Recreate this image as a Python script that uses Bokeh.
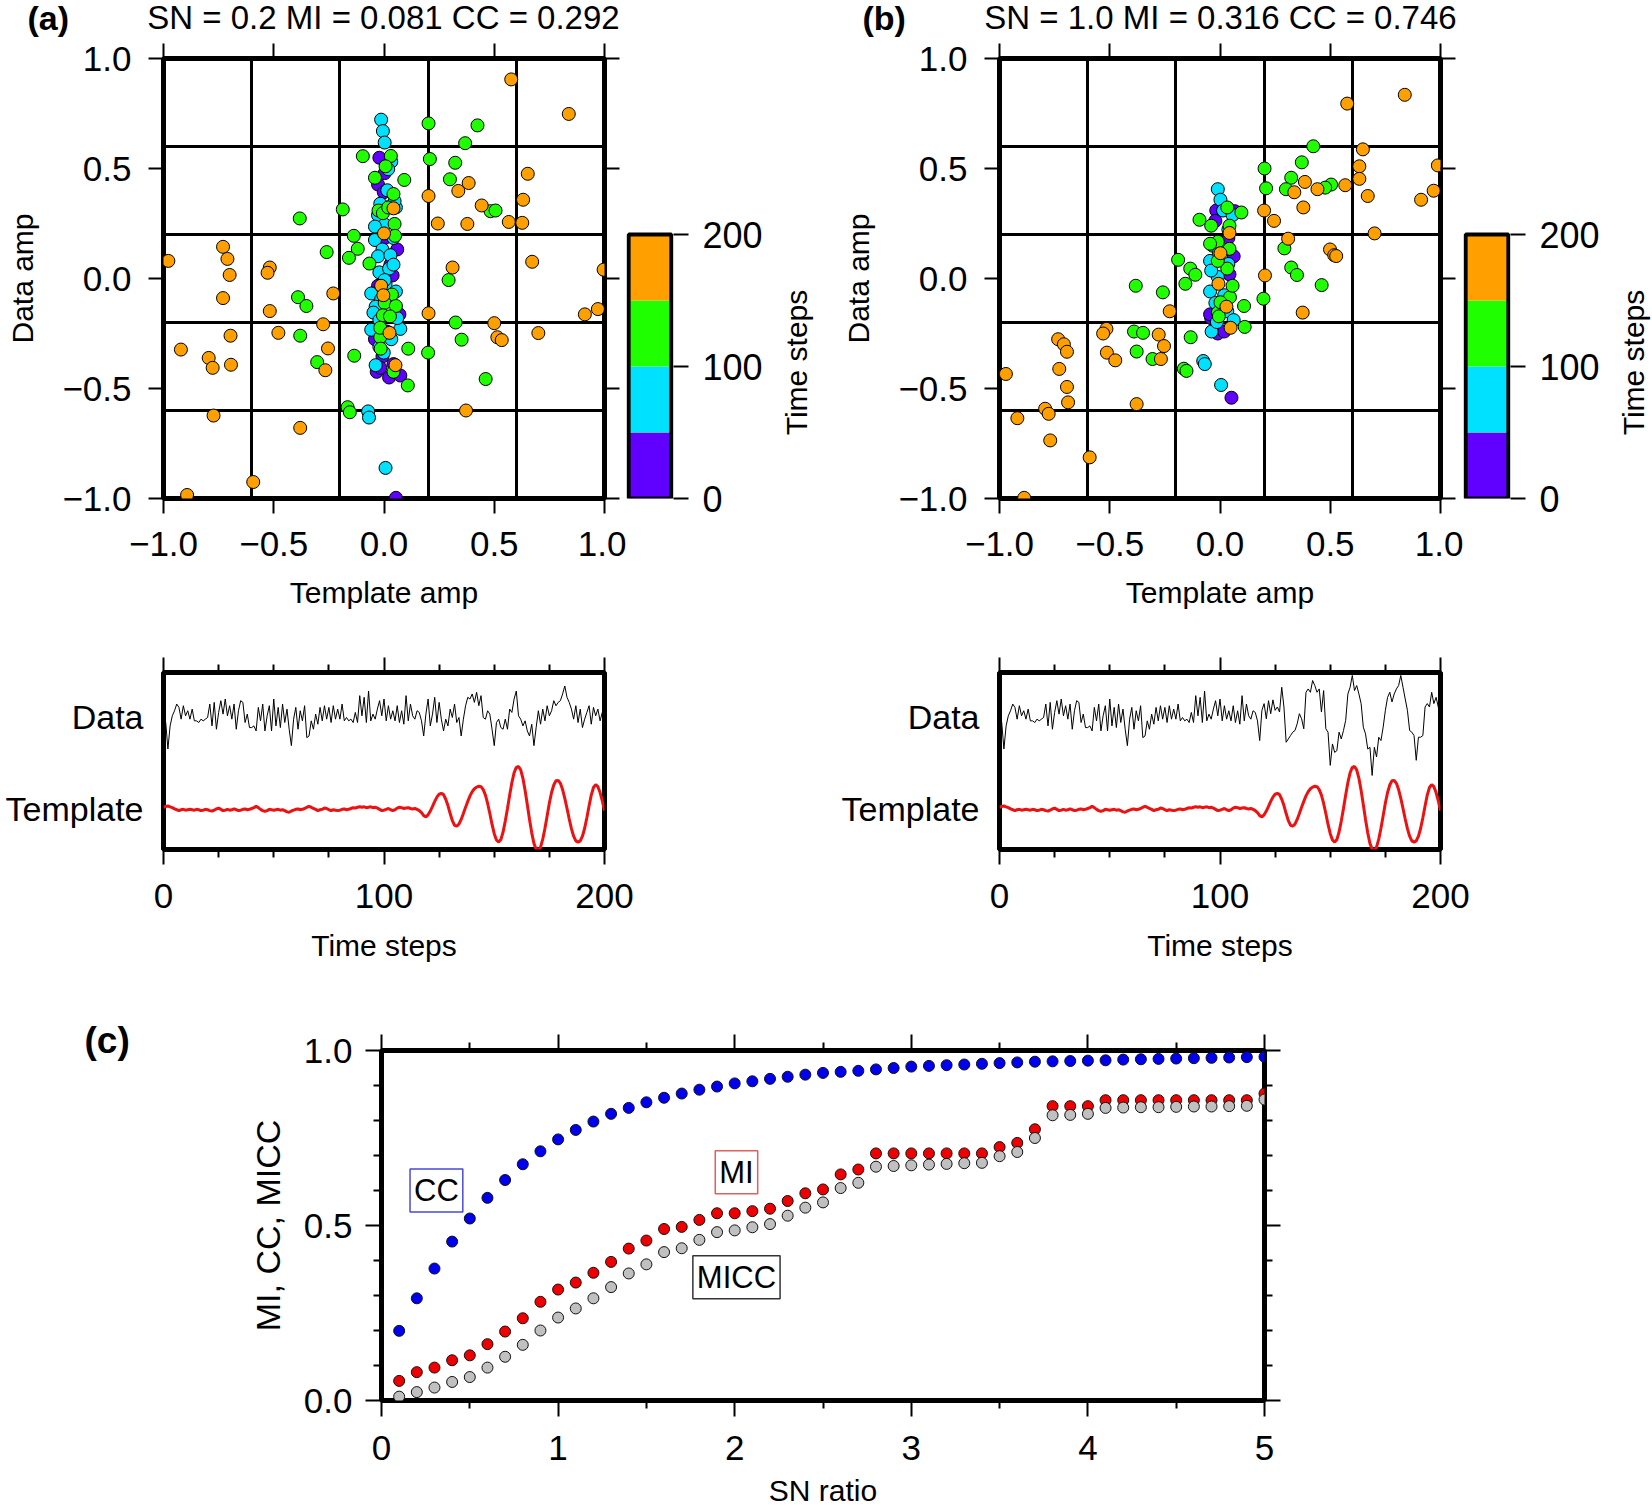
import math
from bokeh.plotting import figure
from bokeh.models import (LinearAxis, FixedTicker, Grid, Label,
                          CustomJSTickFormatter, Range1d)
from bokeh.layouts import row, column
from bokeh.embed import file_html
from bokeh.resources import INLINE

FONT = "Liberation Sans"

# ------------------------------------------------------------------ data
time_steps = list(range(0, 201))

template = [
    0.03, 0.05, 0.06, 0.04, 0.02, -0.01, -0.03, -0.05, -0.03, -0.02,
    -0.04, -0.03, -0.02, -0.03, -0.04, -0.02, -0.03, -0.05, -0.04, -0.02,
    -0.03, -0.05, -0.06, -0.04, -0.01, 0.01, -0.02, -0.05, -0.04, -0.02,
    -0.04, -0.03, -0.01, -0.03, -0.05, -0.04, -0.02, -0.01, -0.03, -0.02,
    0.00, 0.02, 0.05, 0.02, -0.02, -0.05, -0.07, -0.05, -0.02, -0.03,
    -0.04, -0.03, -0.02, -0.04, -0.03, -0.05, -0.08, -0.09, -0.06, -0.04,
    -0.02, -0.01, -0.03, -0.02, 0.00, 0.03, 0.05, 0.03, 0.00, -0.02,
    -0.05, -0.03, -0.02, 0.01, 0.00, -0.03, -0.05, -0.03, -0.04, -0.05,
    -0.04, -0.02, -0.01, -0.03, -0.02, 0.00, 0.02, 0.01, 0.03, 0.04,
    0.03, 0.04, 0.02, 0.03, 0.04, 0.02, 0.03, 0.01, -0.02, -0.05,
    -0.04, -0.02, 0.00, -0.03, -0.05, -0.03, 0.01, 0.03, 0.02, 0.00,
    0.01, 0.02, 0.00, -0.01, 0.00, -0.02, -0.05, -0.10,
    -0.17, -0.20, -0.15, -0.06, 0.05, 0.17, 0.27, 0.34, 0.36, 0.33,
    0.22, 0.07, -0.12, -0.29, -0.40, -0.42, -0.37, -0.26, -0.12, 0.03,
    0.17, 0.30, 0.40, 0.47, 0.51, 0.53, 0.52, 0.45, 0.32, 0.12,
    -0.12, -0.38, -0.60, -0.75, -0.80, -0.74, -0.56, -0.30, 0.00, 0.32,
    0.62, 0.85, 0.98, 1.00, 0.92, 0.72, 0.43, 0.09, -0.26, -0.58,
    -0.83, -0.97, -1.00, -0.92, -0.73, -0.47, -0.17, 0.13, 0.38, 0.56,
    0.66, 0.67, 0.60, 0.45, 0.24, 0.00, -0.25, -0.48, -0.66, -0.77,
    -0.80, -0.77, -0.66, -0.47, -0.22, 0.06, 0.32, 0.50, 0.57, 0.52,
    0.38, 0.18, -0.05,
]

data_a = [
    0.04, -0.12, -0.75, -0.20, 0.04, 0.16, 0.32, 0.24, -0.04, 0.28,
    0.04, 0.16, -0.04, 0.20, -0.08, -0.08, -0.12, -0.04, -0.08, -0.04,
    0.00, 0.32, -0.20, 0.36, -0.28, 0.12, 0.40, 0.08, 0.44, 0.04,
    0.28, -0.04, 0.32, -0.28, 0.16, 0.40, 0.36, -0.12, 0.08, -0.24,
    -0.24, -0.20, -0.32, 0.24, -0.08, 0.32, -0.32, 0.04, 0.28, -0.32,
    0.44, -0.20, 0.24, -0.24, 0.32, -0.12, 0.20, -0.28, -0.67, -0.04,
    0.24, -0.28, 0.16, -0.08, 0.28, -0.48, -0.44, -0.08, -0.28, 0.08,
    -0.16, 0.24, -0.08, 0.28, -0.04, 0.24, -0.12, 0.28, -0.04, 0.20,
    -0.04, 0.32, -0.08, 0.00, -0.08, -0.04, -0.12, 0.12, -0.12, 0.52,
    0.04, 0.48, -0.12, 0.63, -0.08, 0.08, -0.04, 0.20, 0.40, 0.04,
    0.44, -0.08, 0.28, -0.04, 0.16, -0.08, 0.28, -0.12, 0.16, -0.16,
    0.52, -0.08, 0.32, 0.04, -0.04, 0.16, 0.12, -0.08, -0.44, 0.08,
    0.44, -0.20, 0.08, 0.48, -0.12, 0.36, -0.04, -0.32, -0.04, -0.20,
    0.20, 0.00, 0.32, -0.12, 0.00, -0.44, -0.04, 0.28, 0.48, 0.44,
    0.56, 0.36, 0.60, 0.28, 0.52, 0.00, -0.04, 0.16, 0.08, -0.28,
    -0.67, -0.12, -0.04, -0.24, -0.28, -0.04, -0.28, 0.20, 0.12, 0.44,
    0.63, 0.04, -0.04, -0.20, -0.08, -0.32, -0.44, -0.16, -0.67, -0.24,
    0.16, -0.16, 0.20, -0.08, 0.28, 0.04, 0.16, 0.40, 0.28, 0.36,
    0.40, 0.56, 0.75, 0.48, 0.36, 0.20, -0.04, 0.28, -0.12, 0.20,
    -0.24, -0.04, 0.12, 0.28, -0.16, 0.24, 0.04, 0.20, -0.08, 0.12,
    0.00,
]

data_b = [
    0.04, -0.12, -0.75, -0.20, 0.04, 0.16, 0.32, 0.24, -0.04, 0.28,
    0.04, 0.16, -0.04, 0.20, -0.08, -0.08, -0.12, -0.04, -0.08, -0.04,
    0.00, 0.32, -0.20, 0.36, -0.28, 0.12, 0.40, 0.08, 0.44, 0.04,
    0.28, -0.04, 0.32, -0.28, 0.16, 0.40, 0.36, -0.12, 0.08, -0.24,
    -0.24, -0.20, -0.32, 0.24, -0.08, 0.32, -0.32, 0.04, 0.28, -0.32,
    0.44, -0.20, 0.24, -0.24, 0.32, -0.12, 0.20, -0.28, -0.67, -0.04,
    0.24, -0.28, 0.16, -0.08, 0.28, -0.48, -0.44, -0.08, -0.28, 0.08,
    -0.16, 0.24, -0.08, 0.28, -0.04, 0.24, -0.12, 0.28, -0.04, 0.20,
    -0.04, 0.32, -0.08, 0.00, -0.08, -0.04, -0.12, 0.12, -0.12, 0.52,
    0.04, 0.48, -0.12, 0.63, -0.08, 0.08, -0.04, 0.20, 0.40, 0.04,
    0.44, -0.08, 0.28, -0.04, 0.16, -0.08, 0.28, -0.12, 0.16, -0.16,
    0.52, -0.08, 0.32, 0.04, -0.04, 0.16, 0.12, -0.08,
    -0.55, 0.17, 0.33, -0.03, 0.40, 0.09, 0.42, 0.17, 0.25, 0.13,
    0.72, 0.25, -0.59, -0.51, -0.43, -0.35, -0.31, -0.15, 0.09, -0.03,
    -0.27, 0.60, 0.68, 0.60, 0.88, 0.76, 0.60, 0.68, 0.13, 0.64,
    -0.27, -0.35, -1.14, -0.63, -0.83, -0.79, -0.35, -0.51, -0.31, -0.07,
    0.56, 0.72, 1.00, 0.64, 0.76, 0.56, 0.33, -0.23, -0.39, -0.75,
    -0.71, -1.38, -0.71, -0.94, -0.47, -0.55, -0.23, 0.17, 0.48, 0.60,
    0.37, 0.56, 0.68, 0.76, 1.00, 0.72, 0.44, 0.17, -0.31, -0.35,
    -0.43, -1.02, -0.47, -0.47, -0.43, 0.25, 0.33, 0.25, 0.60, 0.33,
    0.48, 0.25, -0.11,
]

# scatter colours per time-step band (0-50, 50-100, 100-150, 150-200)
band_colors = ["#6000ff", "#00e0ff", "#20ff00", "#ffa000"]
band_edges = [0, 50, 100, 150, 200]

# panel (a): template amp (x) vs data amp (y)
a_purple_x = [-0.021, 0.003, -0.027, -0.001, 0.060, 0.039, 0.029, -0.027, 0.070, -0.041, -0.007,
              -0.033, 0.023, 0.074, 0.054, 0.003, -0.013, 0.013, -0.017, 0.043, 0.007, 0.023]
a_purple_y = [0.549, 0.479, 0.427, 0.392, 0.132, 0.014, 0.063, -0.033, -0.163, -0.276, -0.354,
              -0.424, -0.450, -0.441, -0.997, 0.184, -0.111, -0.241, -0.406, -0.389, 0.323, -0.076]
a_cyan_x = [-0.013, -0.005, 0.003, 0.033, 0.015, -0.017, 0.054, -0.027, 0.003, -0.041, -0.007,
            -0.027, 0.029, -0.021, -0.058, -0.013, -0.038, -0.048, -0.021, 0.074, 0.033, -0.021,
            -0.001, -0.038, -0.072, -0.068, 0.007, 0.043, 0.023, 0.007, 0.043, -0.041, 0.054,
            -0.058, 0.019, 0.048, 0.003, 0.060]
a_cyan_y = [0.722, 0.670, 0.618, 0.531, 0.401, 0.340, 0.323, 0.288, 0.245, 0.175, 0.132,
            0.101, 0.106, 0.028, -0.068, -0.094, -0.128, -0.155, -0.189, -0.229, -0.276, -0.311,
            -0.337, -0.394, -0.604, -0.632, -0.861, 0.184, 0.045, -0.024, 0.063, 0.236, -0.059,
            -0.233, 0.497, 0.352, -0.007, -0.180]
a_green_x = [0.202, 0.424, 0.368, -0.096, 0.031, 0.208, 0.323, 0.007, 0.092, -0.041, 0.299,
             0.043, 0.483, 0.506, -0.187, -0.382, -0.025, -0.005, 0.048, -0.137, 0.050, -0.119,
             -0.260, -0.159, -0.066, 0.293, -0.390, -0.352, 0.036, 0.003, 0.054, -0.005, 0.027,
             0.325, -0.380, 0.352, -0.017, 0.110, -0.015, -0.135, 0.200, -0.303, 0.043, 0.108,
             0.461, -0.165, -0.155, -0.017, 0.019]
a_green_y = [0.705, 0.696, 0.615, 0.556, 0.557, 0.543, 0.526, 0.510, 0.448, 0.458, 0.451,
             0.384, 0.306, 0.309, 0.314, 0.273, 0.309, 0.297, 0.248, 0.194, 0.194, 0.135,
             0.120, 0.094, 0.068, -0.007, -0.085, -0.125, -0.073, -0.111, -0.125, -0.167, -0.172,
             -0.200, -0.260, -0.278, -0.267, -0.319, -0.319, -0.351, -0.337, -0.380, -0.424, -0.486,
             -0.457, -0.585, -0.608, -0.224, 0.323]
a_orange_x = [0.577, 0.838, 0.652, 0.384, 0.337, 0.202, 0.631, 0.443, 0.043, 0.244, 0.378,
              0.566, 0.627, 0.000, -0.730, -0.710, -0.978, 0.672, -0.700, -0.518, -0.528, 0.311,
              0.996, -0.013, -0.003, -0.730, -0.230, -0.518, 0.911, 0.970, 0.202, 0.500, -0.276,
              -0.479, 0.025, 0.700, -0.696, 0.514, 0.534, -0.921, -0.254, -0.795, -0.777, -0.694,
              -0.266, 0.052, 0.372, -0.773, -0.380, -0.593, -0.893]
a_orange_y = [0.905, 0.748, 0.476, 0.434, 0.398, 0.375, 0.358, 0.332, 0.319, 0.250, 0.248,
              0.257, 0.253, 0.205, 0.144, 0.089, 0.080, 0.076, 0.016, 0.050, 0.026, 0.050,
              0.040, -0.033, -0.076, -0.089, -0.068, -0.148, -0.163, -0.139, -0.158, -0.203, -0.208,
              -0.247, -0.247, -0.248, -0.260, -0.267, -0.280, -0.323, -0.318, -0.361, -0.406, -0.392,
              -0.417, -0.394, -0.600, -0.623, -0.679, -0.925, -0.984]

# panel (b)
b_purple_x = [-0.017, 0.067, 0.038, 0.062, 0.043, -0.040, -0.010, 0.019, 0.052, -0.045, 0.033, -0.021]
b_purple_y = [0.309, 0.306, 0.184, 0.101, 0.019, -0.180, -0.250, -0.241, -0.542, -0.163, -0.094, 0.262]
b_cyan_x = [-0.010, 0.002, 0.014, 0.038, -0.033, -0.045, 0.038, -0.010, -0.045, -0.021, 0.033,
            0.062, -0.038, -0.014, -0.076, -0.069, 0.005, 0.019, -0.005, 0.057, -0.040]
b_cyan_y = [0.406, 0.358, 0.309, 0.222, 0.149, 0.080, 0.066, 0.007, -0.059, -0.111, -0.149,
            -0.189, -0.241, -0.198, -0.375, -0.389, -0.484, -0.076, 0.115, 0.288, 0.036]
b_green_x = [0.423, 0.371, 0.202, 0.323, 0.299, 0.209, 0.504, 0.477, 0.097, 0.033, -0.093,
             -0.040, 0.043, -0.010, 0.043, 0.292, -0.190, -0.135, -0.112, 0.323, 0.349, -0.382,
             -0.157, -0.259, 0.461, 0.197, 0.109, 0.045, -0.010, 0.002, 0.112, -0.390, -0.349,
             -0.133, -0.378, -0.306, -0.164, -0.152, -0.005, -0.045, 0.033, 0.057, -0.010]
b_green_y = [0.601, 0.528, 0.500, 0.458, 0.406, 0.410, 0.427, 0.413, 0.300, 0.323, 0.267,
             0.240, 0.240, 0.167, 0.135, 0.137, 0.085, 0.045, 0.017, 0.050, 0.016, -0.033,
             -0.024, -0.063, -0.030, -0.092, -0.125, -0.085, -0.155, -0.108, -0.220, -0.241, -0.247,
             -0.267, -0.332, -0.366, -0.410, -0.420, -0.172, 0.158, 0.045, -0.033, 0.080]
b_orange_x = [0.838, 0.577, 0.648, 0.988, 0.632, 0.632, 0.385, 0.568, 0.442, 0.337, 0.670,
              0.969, 0.912, 0.378, 0.200, 0.245, 0.701, 0.309, 0.043, 0.499, 0.518, 0.527,
              0.002, 0.204, -0.007, 0.029, -0.228, 0.375, 0.048, -0.515, -0.530, -0.734, -0.708,
              -0.694, -0.278, -0.254, -0.513, -0.475, -0.268, -0.971, -0.729, -0.694, -0.689,
              -0.793, -0.777, -0.919, -0.378, -0.770, -0.591, -0.888]
b_orange_y = [0.835, 0.795, 0.587, 0.514, 0.510, 0.453, 0.439, 0.424, 0.406, 0.392, 0.375,
              0.399, 0.358, 0.323, 0.309, 0.262, 0.205, 0.181, 0.207, 0.132, 0.106, 0.102,
              0.115, 0.014, -0.024, -0.128, -0.149, -0.155, -0.224, -0.229, -0.250, -0.276, -0.299,
              -0.333, -0.255, -0.307, -0.337, -0.372, -0.366, -0.434, -0.411, -0.493, -0.563,
              -0.592, -0.615, -0.635, -0.571, -0.736, -0.813, -0.997]

# panel (c)
sn_ratio = [0.1, 0.2, 0.3, 0.4, 0.5, 0.6, 0.7, 0.8, 0.9, 1.0,
            1.1, 1.2, 1.3, 1.4, 1.5, 1.6, 1.7, 1.8, 1.9, 2.0,
            2.1, 2.2, 2.3, 2.4, 2.5, 2.6, 2.7, 2.8, 2.9, 3.0,
            3.1, 3.2, 3.3, 3.4, 3.5, 3.6, 3.7, 3.8, 3.9, 4.0,
            4.1, 4.2, 4.3, 4.4, 4.5, 4.6, 4.7, 4.8, 4.9, 5.0]
cc_vals = [0.199, 0.292, 0.377, 0.454, 0.520, 0.579, 0.630, 0.675, 0.712, 0.746,
           0.773, 0.797, 0.819, 0.836, 0.852, 0.865, 0.877, 0.888, 0.897, 0.906,
           0.912, 0.919, 0.925, 0.931, 0.936, 0.939, 0.942, 0.946, 0.950, 0.954,
           0.956, 0.958, 0.960, 0.962, 0.964, 0.966, 0.968, 0.969, 0.970, 0.971,
           0.972, 0.974, 0.975, 0.976, 0.977, 0.978, 0.979, 0.980, 0.981, 0.982]
mi_vals = [0.056, 0.081, 0.094, 0.115, 0.129, 0.161, 0.197, 0.235, 0.282, 0.317,
           0.337, 0.365, 0.396, 0.434, 0.457, 0.490, 0.496, 0.516, 0.535, 0.535,
           0.541, 0.548, 0.570, 0.592, 0.603, 0.646, 0.660, 0.706, 0.706, 0.706,
           0.706, 0.706, 0.706, 0.706, 0.724, 0.736, 0.775, 0.841, 0.841, 0.841,
           0.858, 0.858, 0.858, 0.858, 0.858, 0.858, 0.858, 0.858, 0.858, 0.877]
micc_vals = [0.011, 0.024, 0.037, 0.053, 0.067, 0.094, 0.125, 0.159, 0.200, 0.237,
             0.263, 0.292, 0.324, 0.363, 0.389, 0.424, 0.435, 0.459, 0.481, 0.486,
             0.495, 0.504, 0.528, 0.551, 0.566, 0.607, 0.622, 0.668, 0.670, 0.672,
             0.674, 0.676, 0.678, 0.679, 0.698, 0.710, 0.750, 0.815, 0.816, 0.819,
             0.836, 0.837, 0.838, 0.838, 0.839, 0.840, 0.840, 0.841, 0.842, 0.860]

DATA_OFFSET = 2.167   # vertical offset of the "Data" trace in the waveform panels

# ------------------------------------------------------------------ helpers
TICK_FS = "35px"
LABEL_FS = "30px"


def base_fig(width, height, xr, yr, left, right, top, bottom, outline=5):
    p = figure(width=width, height=height, x_range=Range1d(*xr), y_range=Range1d(*yr),
               x_axis_type=None, y_axis_type=None, toolbar_location=None,
               output_backend="svg", min_border_left=left, min_border_right=right,
               min_border_top=top, min_border_bottom=bottom)
    if outline:
        p.outline_line_color = "black"
        p.outline_line_width = outline
    else:
        p.outline_line_color = None
    p.background_fill_color = "white"
    p.border_fill_color = "white"
    return p


def add_axis(p, side, ticker, formatter=None, major_out=15, minor_out=8,
             labels=True, standoff=10, fs=TICK_FS, title=None, title_fs=LABEL_FS,
             title_standoff=10):
    ax = LinearAxis(ticker=ticker)
    if not labels:
        formatter = CustomJSTickFormatter(code="return '';")
    if formatter is not None:
        ax.formatter = formatter
    ax.axis_line_color = None
    ax.major_tick_in = 0
    ax.minor_tick_in = 0
    ax.major_tick_out = major_out
    ax.minor_tick_out = minor_out
    ax.major_tick_line_width = 2
    ax.minor_tick_line_width = 2
    ax.major_tick_line_color = "black"
    ax.minor_tick_line_color = "black"
    ax.major_label_text_font = FONT
    ax.major_label_text_color = "black"
    ax.major_label_text_font_size = fs if labels else "1px"
    ax.major_label_standoff = standoff if labels else 0
    if title:
        ax.axis_label = title
        ax.axis_label_text_font = FONT
        ax.axis_label_text_font_size = title_fs
        ax.axis_label_text_font_style = "normal"
        ax.axis_label_text_color = "black"
        ax.axis_label_standoff = title_standoff
    p.add_layout(ax, side)
    return ax


def add_label(p, x, y, text, fs=LABEL_FS, align="center", angle=0.0, bold=False, **kw):
    lab = Label(x=x, y=y, text=text, text_font=FONT, text_font_size=fs,
                text_align=align, text_baseline="alphabetic", angle=angle,
                angle_units="rad", text_color="black",
                text_font_style="bold" if bold else "normal", **kw)
    p.add_layout(lab)
    return lab


minus_fmt = "return (tick < 0 ? '\\u2212' : '') + Math.abs(tick).toFixed(1);"

TITLE_H = 38
ROW1_TOP, ROW1_BOTTOM, ROW1_H = 20, 127, 587


def scatter_panel(width, left, right, groups):
    p = base_fig(width, ROW1_H, (-1, 1), (-1, 1), left, right, ROW1_TOP, ROW1_BOTTOM)
    amp_ticks = FixedTicker(ticks=[-1, -0.5, 0, 0.5, 1], minor_ticks=[])
    fmt = CustomJSTickFormatter(code=minus_fmt)
    add_axis(p, "below", amp_ticks, fmt, standoff=18, title="Template amp", title_standoff=17)
    add_axis(p, "left", amp_ticks, fmt, standoff=17, title="Data amp", title_standoff=20)
    add_axis(p, "above", amp_ticks, labels=False)
    add_axis(p, "right", amp_ticks, labels=False)
    for dim in (0, 1):
        p.add_layout(Grid(dimension=dim, ticker=FixedTicker(ticks=[-0.6, -0.2, 0.2, 0.6]),
                          grid_line_color="black", grid_line_width=3))
    for (xs, ys), col in zip(groups, band_colors):
        p.scatter(xs, ys, size=13, fill_color=col, line_color="black", line_width=1)
    return p


def cbar_panel(width, frame_w):
    # frame spans the scatter frame height; the bar fills band_edges[0]..band_edges[-1]
    bar_frac = 264.0 / 440.0
    top_val = band_edges[-1] / bar_frac
    p = base_fig(width, ROW1_H, (-0.05, 1.05), (0, top_val), 0, width - frame_w,
                 ROW1_TOP, ROW1_BOTTOM, outline=0)
    p.quad(left=0, right=1, bottom=band_edges[:-1], top=band_edges[1:],
           fill_color=band_colors, line_color=None)
    p.quad(left=0, right=1, bottom=band_edges[0], top=band_edges[-1],
           fill_color=None, line_color="black", line_width=4)
    add_axis(p, "right", FixedTicker(ticks=[0, 100, 200], minor_ticks=[]), standoff=14,
             fs="36px")
    return p


def cbar_text(x0, width, label_x):
    p = base_fig(width, ROW1_H, (x0, x0 + width), (498, 58), 0, 0, ROW1_TOP, ROW1_BOTTOM,
                 outline=0)
    add_label(p, label_x, 362, "Time steps", angle=math.pi / 2)
    return p


def wave_panel(width, left, right, data):
    p = base_fig(width, 345, (0, 200), (-0.976, 3.238), left, right, 47, 121)
    tt = FixedTicker(ticks=[0, 100, 200], minor_ticks=[25, 50, 75, 125, 150, 175])
    add_axis(p, "below", tt, standoff=19, title="Time steps", title_standoff=18)
    add_axis(p, "above", tt, labels=False)
    name_fmt = CustomJSTickFormatter(code="return tick > 1 ? 'Data' : 'Template';")
    add_axis(p, "left", FixedTicker(ticks=[0, DATA_OFFSET], minor_ticks=[]), name_fmt,
             major_out=0, standoff=20, fs="34px")
    p.line(time_steps, [v + DATA_OFFSET for v in data], line_color="black", line_width=1)
    p.line(time_steps, template, line_color="#ee1111", line_width=3)
    return p


# ------------------------------------------------------------------ title strip
title_fig = base_fig(1652, TITLE_H, (0, 1652), (TITLE_H, 0), 0, 0, 0, 0, outline=0)
add_label(title_fig, 27, 17, "(a)", fs="34px", align="left", bold=True)
add_label(title_fig, 383, 17, "SN = 0.2 MI = 0.081 CC = 0.292", fs="33px")
add_label(title_fig, 862, 17, "(b)", fs="34px", align="left", bold=True)
add_label(title_fig, 1220, 17, "SN = 1.0 MI = 0.316 CC = 0.746", fs="33px")

# ------------------------------------------------------------------ top row
figA = scatter_panel(626, 163, 22,
                     [(a_purple_x, a_purple_y), (a_cyan_x, a_cyan_y),
                      (a_green_x, a_green_y), (a_orange_x, a_orange_y)])
cbA = cbar_panel(142, 47)
cbTA = cbar_text(768, 60, 796)
figB = scatter_panel(635, 171, 23,
                     [(b_purple_x, b_purple_y), (b_cyan_x, b_cyan_y),
                      (b_green_x, b_green_y), (b_orange_x, b_orange_y)])
cbB = cbar_panel(142, 47)
cbTB = cbar_text(1605, 47, 1633)

# ------------------------------------------------------------------ middle row
tsA = wave_panel(828, 163, 224, data_a)
tsB = wave_panel(824, 171, 212, data_b)

# ------------------------------------------------------------------ bottom panel
cText = base_fig(200, 539, (0, 200), (1509, 970), 0, 0, 0, 0, outline=0)
add_label(cText, 84, 1040, "(c)", fs="37px", align="left", bold=True)

figC = base_fig(1100, 539, (0, 5), (0, 1), 181, 36, 80, 106)
xt = FixedTicker(ticks=[0, 1, 2, 3, 4, 5], minor_ticks=[0.5, 1.5, 2.5, 3.5, 4.5])
yt = FixedTicker(ticks=[0, 0.5, 1.0],
                 minor_ticks=[0.1, 0.2, 0.3, 0.4, 0.6, 0.7, 0.8, 0.9])
add_axis(figC, "below", xt, CustomJSTickFormatter(code="return tick.toFixed(0);"),
         major_out=16, standoff=19, title="SN ratio", title_standoff=11)
add_axis(figC, "above", xt, major_out=16, labels=False)
add_axis(figC, "left", yt, CustomJSTickFormatter(code="return tick.toFixed(1);"),
         major_out=16, standoff=13, title="MI, CC, MICC", title_fs="34px", title_standoff=14)
add_axis(figC, "right", yt, major_out=16, labels=False)
figC.scatter(sn_ratio, cc_vals, size=11, fill_color="#0000ee", line_color="#111111", line_width=1)
figC.scatter(sn_ratio, mi_vals, size=11, fill_color="#ee0000", line_color="#111111", line_width=1)
figC.scatter(sn_ratio, micc_vals, size=11, fill_color="#c0c0c0", line_color="#111111", line_width=1)
for txt, lx, ly, col in [("CC", 0.311, 0.600, "#4a4ad8"), ("MI", 2.01, 0.652, "#e06060"),
                         ("MICC", 2.01, 0.352, "#333333")]:
    add_label(figC, lx, ly, txt, fs="31px", border_line_color=col, border_line_width=1.5,
              background_fill_color="white", padding=4)

layout = column(
    title_fig,
    row(column(figA), column(cbA), column(cbTA), column(figB), column(cbB), column(cbTB)),
    row(column(tsA), column(tsB)),
    row(column(cText), column(figC)),
)
open("out.html", "w").write(file_html(layout, INLINE))
